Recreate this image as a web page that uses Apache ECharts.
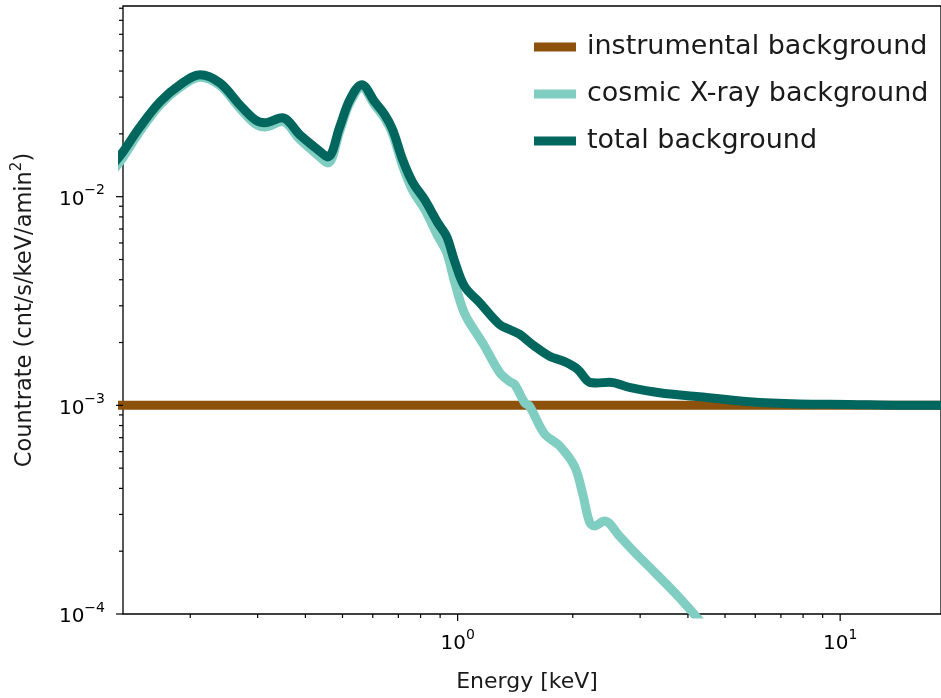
<!DOCTYPE html>
<html>
<head>
<meta charset="utf-8">
<script src="https://cdn.jsdelivr.net/npm/echarts@6/dist/echarts.min.js"></script>
<style>
  html, body { margin: 0; padding: 0; background: #fff; }
  #chart { width: 941px; height: 698px; }
</style>
</head>
<body>
<div id="chart"></div>
<script>
// energies in keV, countrates in cnt/s/keV/amin^2
var totalEnergy = [0.1272, 0.1334, 0.1478, 0.1667, 0.1880, 0.2121, 0.2390, 0.2697, 0.2951, 0.3133,
  0.3471, 0.3869, 0.4310, 0.4576, 0.4918, 0.5224, 0.5615, 0.6070, 0.6448, 0.6765,
  0.7185, 0.7630, 0.8199, 0.8867, 0.9361, 0.982, 1.043, 1.141, 1.287, 1.367,
  1.452, 1.589, 1.739, 1.903, 2.058, 2.212, 2.307, 2.494, 2.812, 3.369,
  4.283, 5.786, 7.816, 10.56, 14.26, 18.69];
var totalBkg = [1.47e-2, 1.64e-2, 2.16e-2, 2.85e-2, 3.44e-2, 3.84e-2, 3.51e-2, 2.75e-2, 2.34e-2, 2.26e-2,
  2.39e-2, 1.98e-2, 1.68e-2, 1.55e-2, 2.16e-2, 2.91e-2, 3.44e-2, 2.85e-2, 2.47e-2, 2.09e-2,
  1.50e-2, 1.17e-2, 9.67e-3, 7.51e-3, 6.44e-3, 4.9e-3, 3.71e-3, 3.11e-3, 2.44e-3, 2.31e-3,
  2.19e-3, 1.92e-3, 1.72e-3, 1.62e-3, 1.49e-3, 1.29e-3, 1.28e-3, 1.29e-3, 1.22e-3, 1.15e-3,
  1.10e-3, 1.04e-3, 1.015e-3, 1.01e-3, 1.0e-3, 1.0e-3];

var cosmicEnergy = [0.1272, 0.1334, 0.1478, 0.1667, 0.1880, 0.2121, 0.2390, 0.2697, 0.2951, 0.3133,
  0.3471, 0.3869, 0.4310, 0.4576, 0.4918, 0.5224, 0.5615, 0.6070, 0.6448, 0.6765,
  0.7185, 0.7630, 0.8199, 0.8867, 0.9361, 0.982, 1.043, 1.141, 1.176, 1.287,
  1.367, 1.409, 1.496, 1.542, 1.687, 1.846, 2.021, 2.120, 2.212, 2.279,
  2.420, 2.649, 2.899, 3.268, 3.687, 4.034, 4.55];
var cosmicBkg = [1.37e-2, 1.54e-2, 2.06e-2, 2.75e-2, 3.34e-2, 3.74e-2, 3.41e-2, 2.65e-2, 2.24e-2, 2.16e-2,
  2.29e-2, 1.88e-2, 1.58e-2, 1.45e-2, 2.06e-2, 2.81e-2, 3.34e-2, 2.75e-2, 2.37e-2, 1.99e-2,
  1.40e-2, 1.07e-2, 8.7e-3, 6.5e-3, 5.4e-3, 3.9e-3, 2.75e-3, 2.1e-3, 1.92e-3, 1.44e-3,
  1.30e-3, 1.26e-3, 1.03e-3, 0.99e-3, 7.3e-4, 6.4e-4, 5.1e-4, 3.8e-4, 2.76e-4, 2.64e-4,
  2.79e-4, 2.36e-4, 1.98e-4, 1.59e-4, 1.27e-4, 1.06e-4, 8.2e-5];

var instrEnergy = [0.12, 20];
var instrBkg = [1e-3, 1e-3];

// axis ticks
var xMajorTicks = [1, 10];
var xMinorTicks = [0.2, 0.3, 0.4, 0.5, 0.6, 0.7, 0.8, 0.9, 2, 3, 4, 5, 6, 7, 8, 9];
var yMajorTicks = [1e-4, 1e-3, 1e-2];
var yMinorTicks = [2e-4, 3e-4, 4e-4, 5e-4, 6e-4, 7e-4, 8e-4, 9e-4,
  2e-3, 3e-3, 4e-3, 5e-3, 6e-3, 7e-3, 8e-3, 9e-3,
  2e-2, 3e-2, 4e-2, 5e-2, 6e-2, 7e-2, 8e-2];

var X_MIN = 0.1334, X_MAX = 18.35;
var Y_MIN = 1e-4, Y_MAX = 0.082;

var FONT = 'DejaVu Sans';

function pairs(xs, ys) {
  return xs.map(function (x, i) { return [x, ys[i]]; });
}

// 10^n labels like matplotlib
function powLabel(v) {
  var e = Math.round(Math.log10(v));
  return '{b|10}{s|' + (e < 0 ? '\u2212' + (-e) : e) + '}';
}
var powRich = {
  b: { fontSize: 20, fontFamily: FONT, color: '#000', lineHeight: 26, verticalAlign: 'bottom' },
  s: { fontSize: 14, fontFamily: FONT, color: '#000', lineHeight: 14, verticalAlign: 'top' }
};

function tickSeries(list, len, axis) {
  return {
    type: 'custom',
    silent: true,
    clip: false,
    z: 10,
    renderItem: function (params, api) {
      var p = api.coord([api.value(0), api.value(1)]);
      var shape = axis === 'x'
        ? { x1: p[0], y1: p[1], x2: p[0], y2: p[1] + len }
        : { x1: p[0] - len, y1: p[1], x2: p[0], y2: p[1] };
      return { type: 'line', shape: shape, style: { stroke: '#000', lineWidth: 1.2 } };
    },
    data: list.map(function (v) { return axis === 'x' ? [v, Y_MIN] : [X_MIN, v]; })
  };
}

var chart = echarts.init(document.getElementById('chart'));
var option = {
  animation: false,
  backgroundColor: '#fff',
  grid: {
    left: 123, top: 6, width: 819, height: 609,
    show: true, borderColor: '#000', borderWidth: 1.3, backgroundColor: 'transparent'
  },
  legend: {
    data: ['instrumental background', 'cosmic X-ray background', 'total background'],
    orient: 'vertical',
    left: 529,
    top: 27,
    icon: 'rect',
    itemWidth: 42,
    itemHeight: 9,
    itemGap: 17,
    selectedMode: false,
    textStyle: { fontSize: 27, fontFamily: FONT, color: '#1a1a1a', lineHeight: 30, padding: [0, 0, 0, 6] }
  },
  xAxis: {
    type: 'log',
    logBase: 10,
    min: X_MIN,
    max: X_MAX,
    axisLine: { show: false },
    axisTick: { show: false },
    splitLine: { show: false },
    minorTick: { show: false },
    axisLabel: {
      margin: 14,
      showMinLabel: false,
      showMaxLabel: false,
      formatter: powLabel,
      rich: powRich
    },
    name: 'Energy [keV]',
    nameLocation: 'middle',
    nameGap: 57,
    nameTextStyle: { fontSize: 22, fontFamily: FONT, color: '#1a1a1a', padding: [0, 10, 0, 0] }
  },
  yAxis: {
    type: 'log',
    logBase: 10,
    min: Y_MIN,
    max: Y_MAX,
    axisLine: { show: false },
    axisTick: { show: false },
    splitLine: { show: false },
    axisLabel: {
      margin: 18,
      showMinLabel: true,
      showMaxLabel: false,
      formatter: powLabel,
      rich: powRich
    },
    name: '{a|Countrate (cnt/s/keV/amin}{s|2}{a|)}',
    nameLocation: 'middle',
    nameGap: 86,
    nameTextStyle: {
      rich: {
        a: { fontSize: 22.5, fontFamily: FONT, color: '#1a1a1a', lineHeight: 27, verticalAlign: 'bottom' },
        s: { fontSize: 15, fontFamily: FONT, color: '#1a1a1a', lineHeight: 15, verticalAlign: 'top' }
      }
    }
  },
  series: [
    {
      name: 'instrumental background',
      type: 'line',
      symbol: 'none',
      silent: true,
      color: '#8c510a',
      lineStyle: { width: 9, color: '#8c510a' },
      data: pairs(instrEnergy, instrBkg)
    },
    {
      name: 'cosmic X-ray background',
      type: 'line',
      symbol: 'none',
      silent: true,
      smooth: 0.35,
      color: '#80cdc1',
      lineStyle: { width: 9, color: '#80cdc1', cap: 'round', join: 'round' },
      data: pairs(cosmicEnergy, cosmicBkg)
    },
    {
      name: 'total background',
      type: 'line',
      symbol: 'none',
      silent: true,
      smooth: 0.35,
      color: '#01665e',
      lineStyle: { width: 9, color: '#01665e', cap: 'round', join: 'round' },
      data: pairs(totalEnergy, totalBkg)
    },
    tickSeries(xMajorTicks, 7, 'x'),
    tickSeries(xMinorTicks, 4, 'x'),
    tickSeries(yMajorTicks, 7, 'y'),
    tickSeries(yMinorTicks, 4, 'y')
  ]
};
chart.setOption(option);
</script>
</body>
</html>
